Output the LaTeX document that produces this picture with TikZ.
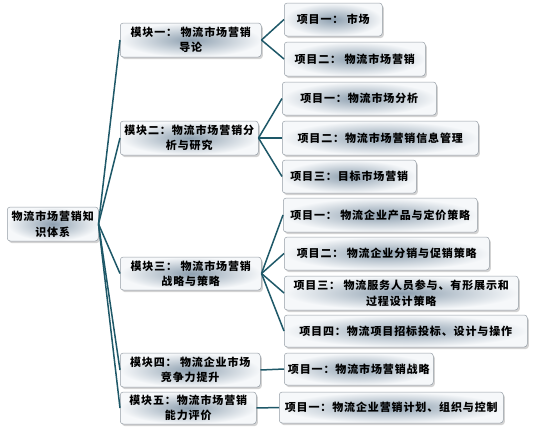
\documentclass[tikz,border=0pt]{standalone}
\usepackage{fontspec}
\setmainfont{Noto Sans CJK SC}[LetterSpace=8]
\usepackage{tikz}
\usetikzlibrary{shadows}
\definecolor{Branch}{RGB}{30, 88, 104}
\definecolor{BoxMid}{RGB}{142, 160, 176}
\definecolor{BoxEdge}{RGB}{246, 248, 250}
\definecolor{BoxLine}{RGB}{150, 158, 166}

\begin{document}
\begin{tikzpicture}[
    x=1pt, y=-1pt,
    card/.style={rectangle, rounded corners=3pt, draw=BoxLine, line width=0.5pt,
                 inner color=BoxMid, outer color=BoxEdge, anchor=west,
                 drop shadow={opacity=0.35, shadow xshift=1.5pt, shadow yshift=-2pt},
                 align=center, inner sep=1pt, font=\fontsize{11}{15.5}\selectfont\bfseries},
    link/.style={line width=1.5pt, Branch},
]
\useasboundingbox (0,0) rectangle (539,432);

% root and modules
\node[card, minimum width=91, minimum height=34] (root) at (7,224) {物流市场营销知\\识体系};
\node[card, minimum width=141, minimum height=34] (modA) at (120,40) {模块一： 物流市场营销\\导论};
\node[card, minimum width=138, minimum height=34] (modB) at (120,138) {模块二：物流市场营销分\\析与研究};
\node[card, minimum width=141, minimum height=33] (modC) at (120,273.5) {模块三： 物流市场营销\\战略与策略};
\node[card, minimum width=140, minimum height=34] (modD) at (120,370) {模块四： 物流企业市场\\竞争力提升};
\node[card, minimum width=136, minimum height=32] (modE) at (120,408) {模块五：物流市场营销\\能力评价};

% projects
\node[card, minimum width=98, minimum height=33] (itemA1) at (284,19.5) {项目一： 市场};
\node[card, minimum width=141, minimum height=34] (itemA2) at (284,59) {项目二： 物流市场营销};
\node[card, minimum width=154, minimum height=33] (itemB1) at (282,98.5) {项目一：物流市场分析};
\node[card, minimum width=196, minimum height=34] (itemB2) at (282,138) {项目二：物流市场营销信息管理};
\node[card, minimum width=134, minimum height=33] (itemB3) at (282,176.5) {项目三：目标市场营销};
\node[card, minimum width=194, minimum height=34] (itemC1) at (283,215) {项目一： 物流企业产品与定价策略};
\node[card, minimum width=205, minimum height=33] (itemC2) at (284,253.5) {项目二： 物流企业分销与促销策略};
\node[card, minimum width=234, minimum height=34] (itemC3) at (284,293) {项目三： 物流服务人员参与、有形展示和\\过程设计策略};
\node[card, minimum width=243, minimum height=32] (itemC4) at (284,331) {项目四：物流项目招标投标、设计与操作};
\node[card, minimum width=149, minimum height=32] (itemD1) at (284,369) {项目一：物流市场营销战略};
\node[card, minimum width=224, minimum height=31] (itemE1) at (279,407.5) {项目一：物流企业营销计划、组织与控制};

\foreach \m in {modA,modB,modC,modD,modE}
  \draw[link] (root.east) -- (\m.west);
\foreach \i in {itemA1,itemA2}
  \draw[link] (modA.east) -- (\i.west);
\foreach \i in {itemB1,itemB2,itemB3}
  \draw[link] (modB.east) -- (\i.west);
\foreach \i in {itemC1,itemC2,itemC3,itemC4}
  \draw[link] (modC.east) -- (\i.west);
\draw[link] (modD.east) -- (itemD1.west);
\draw[link] (modE.east) -- (itemE1.west);
\end{tikzpicture}
\end{document}
